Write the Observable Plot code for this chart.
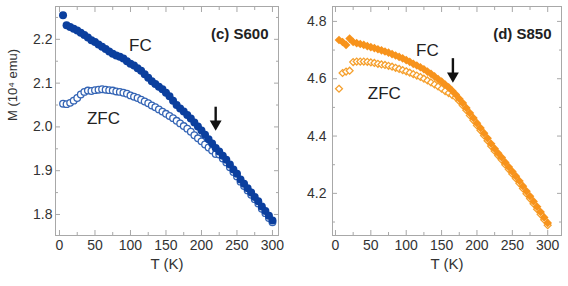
<!DOCTYPE html>
<html>
<head>
<meta charset="utf-8">
<script src="https://cdn.jsdelivr.net/npm/d3@7"></script>
<script src="https://cdn.jsdelivr.net/npm/@observablehq/plot@0.6"></script>
<style>
  html, body { margin: 0; padding: 0; background: #fff; }
  #wrap { position: relative; width: 568px; height: 286px; font-family: "Liberation Sans", Arial, sans-serif; }
  #wrap > div { position: absolute; top: 0; }
</style>
</head>
<body>
<div id="wrap"><div id="left" style="left:0"></div><div id="right" style="left:284px"></div></div>
<script>
// ---------- data ----------
const temps = [5,10,15,20,25,30,35,40,45,50,55,60,65,70,75,80,85,90,95,100,105,110,115,120,125,130,135,140,145,150,155,160,165,170,175,180,185,190,195,200,205,210,215,220,225,230,235,240,245,250,255,260,265,270,275,280,285,290,295,300];

// (c) S600, M in 10^4 emu
const s600FC = [2.255,2.232,2.228,2.224,2.220,2.215,2.210,2.204,2.198,2.194,2.188,2.183,2.178,2.172,2.167,2.163,2.160,2.156,2.150,2.144,2.140,2.134,2.128,2.120,2.112,2.104,2.098,2.092,2.086,2.078,2.070,2.060,2.050,2.042,2.035,2.027,2.019,2.010,2.001,1.992,1.982,1.972,1.962,1.952,1.944,1.934,1.925,1.914,1.903,1.893,1.880,1.870,1.860,1.850,1.840,1.830,1.818,1.808,1.797,1.786];
const s600ZFC = [2.053,2.052,2.055,2.060,2.066,2.074,2.080,2.083,2.082,2.084,2.085,2.086,2.085,2.084,2.083,2.081,2.080,2.078,2.076,2.072,2.069,2.066,2.062,2.058,2.054,2.049,2.045,2.040,2.035,2.030,2.025,2.020,2.014,2.008,2.002,1.996,1.989,1.981,1.974,1.967,1.960,1.953,1.946,1.938,1.937,1.928,1.919,1.908,1.897,1.887,1.875,1.865,1.855,1.845,1.835,1.825,1.813,1.803,1.792,1.782];

// (d) S850
const s850FC = [4.735,4.728,4.718,4.740,4.728,4.724,4.721,4.718,4.714,4.710,4.707,4.703,4.699,4.695,4.691,4.686,4.681,4.676,4.671,4.665,4.659,4.652,4.646,4.640,4.633,4.625,4.617,4.608,4.599,4.590,4.580,4.570,4.558,4.545,4.530,4.515,4.498,4.480,4.463,4.445,4.428,4.410,4.392,4.373,4.356,4.340,4.325,4.308,4.292,4.276,4.260,4.243,4.225,4.207,4.190,4.172,4.153,4.135,4.116,4.097];
const s850ZFC = [4.565,4.620,4.625,4.628,4.658,4.660,4.660,4.660,4.659,4.657,4.655,4.652,4.650,4.648,4.645,4.642,4.638,4.634,4.630,4.626,4.621,4.616,4.611,4.606,4.600,4.594,4.587,4.580,4.573,4.565,4.557,4.550,4.543,4.535,4.522,4.507,4.490,4.472,4.455,4.437,4.420,4.402,4.384,4.365,4.348,4.332,4.317,4.300,4.284,4.268,4.252,4.235,4.217,4.199,4.182,4.164,4.145,4.127,4.108,4.089];

// ticks
const xMajorTicks = [0,50,100,150,200,250,300];
const xMinorTicks = [25,75,125,175,225,275];
const s600YMajor = [1.8,1.9,2.0,2.1,2.2];
const s600YMinor = [1.85,1.95,2.05,2.15,2.25];
const s850YMajor = [4.2,4.4,4.6,4.8];
const s850YMinor = [4.1,4.3,4.5,4.7];

// annotations (data coordinates)
const s600Labels = [{T:114, M:2.186, text:"FC"}, {T:62, M:2.020, text:"ZFC"}];
const s850Labels = [{T:130, M:4.699, text:"FC"}, {T:69, M:4.549, text:"ZFC"}];
const s600Arrow = {T:220, top:2.045, tip:1.992};
const s850Arrow = {T:166, top:4.670, tip:4.587};
const panelTitles = ["(c) S600", "(d) S850"];
const xLabel = "T (K)";
const yLabel = "M (10\u2074 emu)";

// ---------- drawing ----------
const fmt = d3.format(".1f");
const TXT = "#333";
const FRAME = "#a8a8a8";

function panel(o) {
  const fc = temps.map((T, i) => ({T, M: o.fc[i]}));
  const zfc = temps.map((T, i) => ({T, M: o.zfc[i]}));
  return Plot.plot({
    width: 284, height: 286,
    marginLeft: o.ml, marginRight: o.mr, marginTop: 6, marginBottom: 51,
    style: {fontFamily: '"Liberation Sans", Arial, sans-serif', background: "white", overflow: "visible"},
    x: {domain: o.xdom},
    y: {domain: o.ydom},
    marks: [
      Plot.frame({stroke: FRAME}),
      // ticks (inward)
      Plot.axisX(xMajorTicks, {anchor: "bottom", tickSize: -5, text: null, stroke: FRAME, label: null}),
      Plot.axisX(xMinorTicks, {anchor: "bottom", tickSize: -3, text: null, stroke: FRAME, label: null}),
      Plot.axisX(xMajorTicks, {anchor: "top", tickSize: -5, text: null, stroke: FRAME, label: null}),
      Plot.axisX(xMinorTicks, {anchor: "top", tickSize: -3, text: null, stroke: FRAME, label: null}),
      Plot.axisY(o.yMajor, {anchor: "left", tickSize: -5, text: null, stroke: FRAME, label: null}),
      Plot.axisY(o.yMinor, {anchor: "left", tickSize: -3, text: null, stroke: FRAME, label: null}),
      Plot.axisY(o.yMajor, {anchor: "right", tickSize: -5, text: null, stroke: FRAME, label: null}),
      Plot.axisY(o.yMinor, {anchor: "right", tickSize: -3, text: null, stroke: FRAME, label: null}),
      // tick labels
      Plot.axisX(xMajorTicks, {anchor: "bottom", tickSize: 0, tickPadding: 5, fontSize: 14, fill: TXT, label: null}),
      Plot.axisY(o.yMajor, {anchor: "left", tickSize: 0, tickPadding: o.ypad, fontSize: 14, fill: TXT, tickFormat: fmt, label: null}),
      Plot.text([xLabel], {frameAnchor: "bottom", dy: 33, fontSize: 15, fill: TXT}),
      ...(o.showYLabel ? [Plot.text([yLabel], {frameAnchor: "left", dx: -43, rotate: -90, fontSize: 13, fill: TXT})] : []),
      // data
      Plot.dot(zfc, {x: "T", y: "M", symbol: o.sym, r: o.rOpen, fill: "white", stroke: o.openColor, strokeWidth: 1.3}),
      Plot.dot(fc, {x: "T", y: "M", symbol: o.sym, r: o.rFill, fill: o.color, stroke: "none"}),
      // annotations
      Plot.text(o.labels, {x: "T", y: "M", text: "text", fontSize: 17, fill: "#222"}),
      Plot.text([o.title], {frameAnchor: "top-right", dx: -10, dy: 22, textAnchor: "end", fontSize: 15, fontWeight: "bold", fill: "#222"}),
      Plot.ruleX([o.arrow], {x: "T", y1: "top", y2: "tip", strokeWidth: 2.4, stroke: "#111", insetBottom: 7}),
      Plot.dot([o.arrow], {x: "T", y: "tip", symbol: "triangle", rotate: 180, r: 4.4, fill: "#111", dy: -6.5})
    ]
  });
}

document.getElementById("left").append(panel({
  fc: s600FC, zfc: s600ZFC, ml: 55, mr: 6, xdom: [-5.6, 308.5], ydom: [1.752, 2.275],
  yMajor: s600YMajor, yMinor: s600YMinor, ypad: 3, showYLabel: true,
  sym: "circle", rFill: 4.0, rOpen: 3.3, color: "#0b3f9e", openColor: "#3565b5",
  labels: s600Labels, title: panelTitles[0], arrow: s600Arrow
}));
document.getElementById("right").append(panel({
  fc: s850FC, zfc: s850ZFC, ml: 48, mr: 7, xdom: [-4.2, 319.5], ydom: [4.053, 4.852],
  yMajor: s850YMajor, yMinor: s850YMinor, ypad: 6, showYLabel: false,
  sym: "diamond2", rFill: 3.9, rOpen: 3.1, color: "#f7931c", openColor: "#f5a02e",
  labels: s850Labels, title: panelTitles[1], arrow: s850Arrow
}));
</script>
</body>
</html>
